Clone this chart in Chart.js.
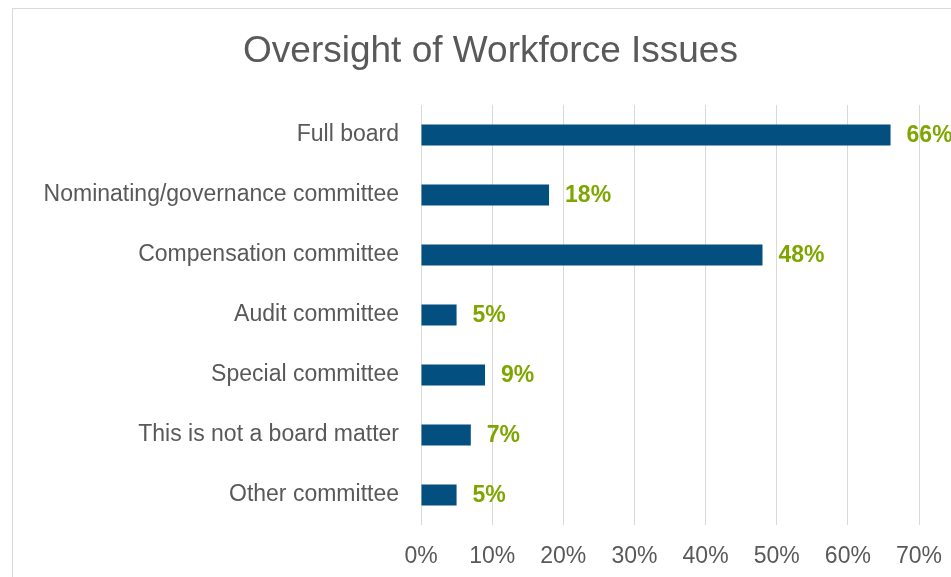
<!DOCTYPE html>
<html>
<head>
<meta charset="utf-8">
<title>Oversight of Workforce Issues</title>
<script src="https://cdn.jsdelivr.net/npm/chart.js@4/dist/chart.umd.min.js"></script>
<style>
    html, body { margin: 0; padding: 0; background: #ffffff; overflow: hidden; }
    #frame {
        position: absolute;
        left: 12px;
        top: 8px;
        width: 955px;
        height: 640px;
        border: 1px solid #d9d9d9;
        background: #ffffff;
    }
    #frame canvas { display: block; }
</style>
</head>
<body>
<div id="frame">
    <canvas id="oversight" width="955" height="640"></canvas>
</div>
<script>
// --- DATA ---
const chartTitle = 'Oversight of Workforce Issues';
const categories = [
    'Full board',
    'Nominating/governance committee',
    'Compensation committee',
    'Audit committee',
    'Special committee',
    'This is not a board matter',
    'Other committee'
];
const shares = [66, 18, 48, 5, 9, 7, 5]; // % of respondents
const axisTicks = [0, 10, 20, 30, 40, 50, 60, 70];

// --- STYLE ---
const FONT = '"Liberation Sans", Arial, sans-serif';
const colors = {
    bar: '#024f80',
    label: '#7fa600',
    text: '#595959',
    grid: '#d9d9d9'
};

// Title centred on the whole frame (the built-in one centres on width minus padding)
const frameTitle = {
    id: 'frameTitle',
    afterDraw(chart) {
        const ctx = chart.ctx;
        ctx.save();
        ctx.font = '37px ' + FONT;
        ctx.fillStyle = colors.text;
        ctx.textAlign = 'center';
        ctx.textBaseline = 'middle';
        ctx.fillText(chartTitle, chart.width / 2, 43);
        ctx.restore();
    }
};

// Value labels to the right of each bar
const valueLabels = {
    id: 'valueLabels',
    afterDatasetsDraw(chart) {
        const ctx = chart.ctx;
        const meta = chart.getDatasetMeta(0);
        ctx.save();
        ctx.font = 'bold 23px ' + FONT;
        ctx.fillStyle = colors.label;
        ctx.textAlign = 'left';
        ctx.textBaseline = 'middle';
        meta.data.forEach((bar, i) => {
            ctx.fillText(shares[i] + '%', bar.x + 16, bar.y + 1);
        });
        ctx.restore();
    }
};

new Chart(document.getElementById('oversight'), {
    type: 'bar',
    data: {
        labels: categories,
        datasets: [{
            data: shares,
            backgroundColor: colors.bar,
            borderWidth: 0,
            categoryPercentage: 1,
            barPercentage: 0.35
        }]
    },
    plugins: [valueLabels, frameTitle],
    options: {
        indexAxis: 'y',
        responsive: false,
        animation: false,
        layout: {
            padding: { left: 0, right: 49, top: 96, bottom: 64 }
        },
        plugins: {
            legend: { display: false },
            tooltip: { enabled: false },
            title: { display: false }
        },
        scales: {
            x: {
                min: 0,
                max: 70,
                afterBuildTicks(scale) {
                    scale.ticks = axisTicks.map(v => ({ value: v }));
                },
                afterFit(scale) { scale.height = 60; },
                grid: { color: colors.grid, lineWidth: 1, drawTicks: false },
                border: { display: false },
                ticks: {
                    color: colors.text,
                    padding: 18,
                    font: { family: FONT, size: 23 },
                    callback: v => v + '%'
                }
            },
            y: {
                afterFit(scale) { scale.width = 408; },
                grid: { display: false },
                border: { display: false },
                ticks: {
                    color: colors.text,
                    padding: 14,
                    font: { family: FONT, size: 23 }
                }
            }
        }
    }
});
</script>
</body>
</html>
